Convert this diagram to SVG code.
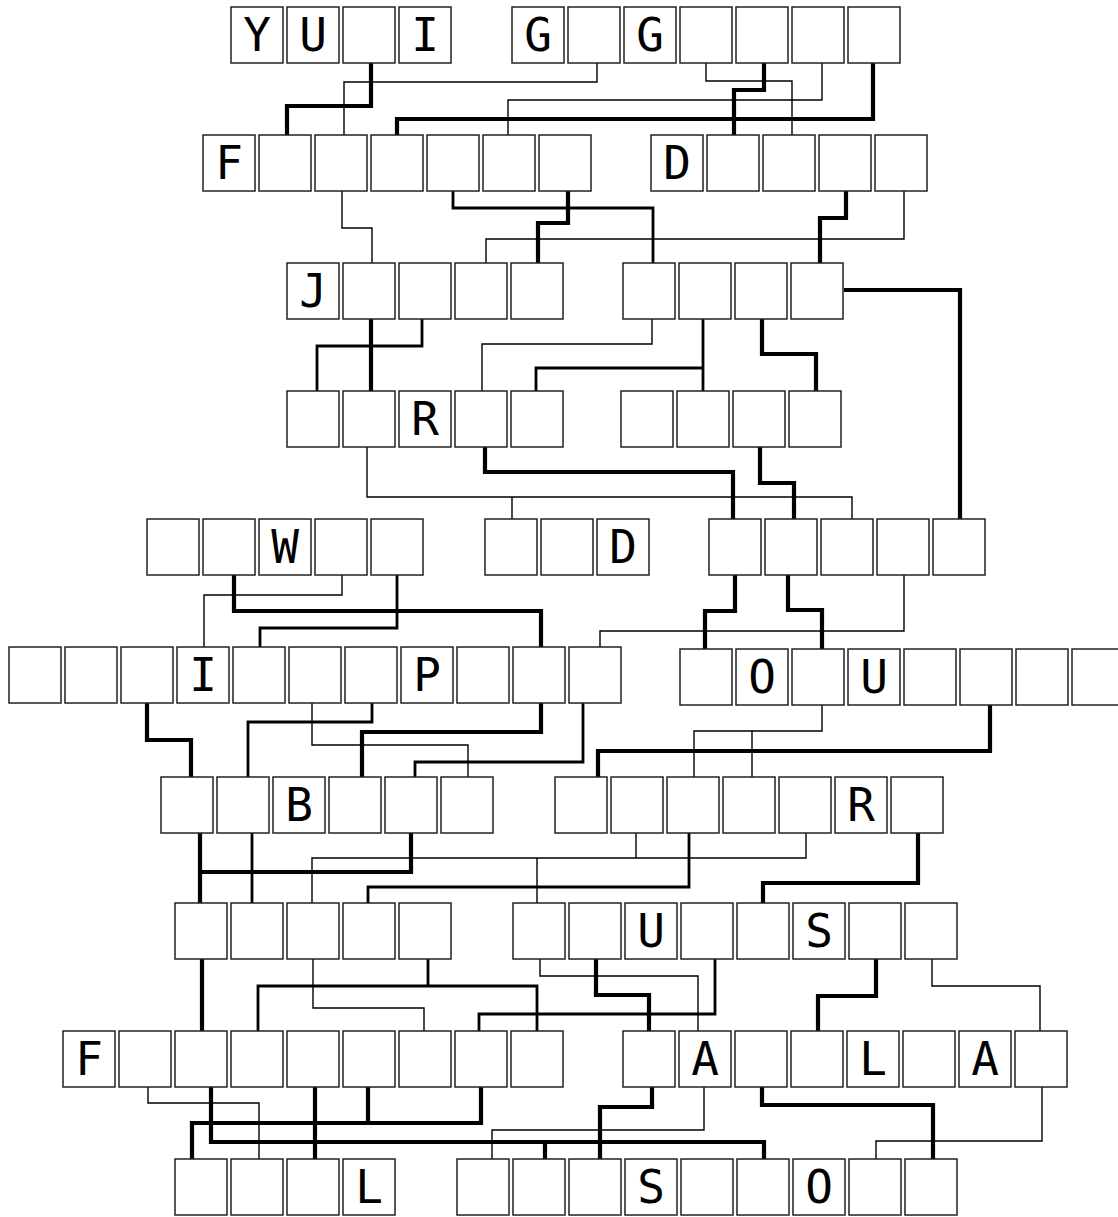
<svg xmlns="http://www.w3.org/2000/svg" xmlns:xlink="http://www.w3.org/1999/xlink" width="1118" height="1217" viewBox="0 0 1118 1217">
<style>
.b{fill:#fff;stroke:#222;stroke-width:1.5}
text{font-family:"DejaVu Sans Mono","Liberation Mono",monospace;font-size:46px;text-anchor:middle;fill:#000}
.thin{fill:none;stroke:#000;stroke-width:1.4}
.med{fill:none;stroke:#000;stroke-width:2.8}
.thk{fill:none;stroke:#000;stroke-width:4.2}
</style>
<defs><rect id="box" class="b" width="52" height="56"/></defs>
<rect width="1118" height="1217" fill="#fff"/>
<g id="connectors">
<path class="thin" d="M597 63V82H344V135"/>
<path class="thin" d="M822 63V100H508V135"/>
<path class="thin" d="M706 63V81H792V135"/>
<path class="thin" d="M342 191V228H372V263"/>
<path class="thin" d="M904 191V239H486V263"/>
<path class="thin" d="M652 319V344H482V391"/>
<path class="thin" d="M367 447V497H852V519M512 497V519"/>
<path class="thin" d="M342 575V595H204V647"/>
<path class="thin" d="M904 575V631H600V649"/>
<path class="thin" d="M312 703V745H468V777"/>
<path class="thin" d="M822 705V731H694V777M752 731V777"/>
<path class="thin" d="M312 903V858H806V833M636 833V858M537 858V903"/>
<path class="thin" d="M313 959V1008H424V1031"/>
<path class="thin" d="M540 959V976H698V1031"/>
<path class="thin" d="M932 959V986H1040V1031"/>
<path class="thin" d="M148 1087V1103H259V1159"/>
<path class="thin" d="M704 1087V1130H492V1159"/>
<path class="thin" d="M1042 1087V1141H876V1159"/>
<path class="med" d="M453 191V208H653V263"/>
<path class="med" d="M422 319V346H317V391"/>
<path class="med" d="M703 319V391M703 368H536V391"/>
<path class="med" d="M397 575V628H260V647"/>
<path class="med" d="M372 703V722H248V777"/>
<path class="med" d="M583 703V762H415V777"/>
<path class="med" d="M252 833V903"/>
<path class="med" d="M368 903V887H689V833"/>
<path class="med" d="M258 1031V986H537V1031M428 959V986"/>
<path class="med" d="M479 1031V1014H715V959"/>
<path class="thk" d="M371 63V106H287V135"/>
<path class="thk" d="M873 63V119H397V135"/>
<path class="thk" d="M764 63V90H734V135"/>
<path class="thk" d="M568 191V223H538V263"/>
<path class="thk" d="M846 191V218H820V263"/>
<path class="thk" d="M371 319V391"/>
<path class="thk" d="M762 319V354H816V391"/>
<path class="thk" d="M844 290H960V519"/>
<path class="thk" d="M485 447V472H733V519"/>
<path class="thk" d="M760 447V483H794V519"/>
<path class="thk" d="M234 575V611H541V647"/>
<path class="thk" d="M788 575V610H822V649"/>
<path class="thk" d="M735 575V611H705V649"/>
<path class="thk" d="M147 703V740H191V777"/>
<path class="thk" d="M541 703V732H362V777"/>
<path class="thk" d="M990 705V751H598V777"/>
<path class="thk" d="M200 833V903M200 872H411V833"/>
<path class="thk" d="M918 833V883H763V903"/>
<path class="thk" d="M202 959V1031"/>
<path class="thk" d="M596 959V995H649V1031"/>
<path class="thk" d="M876 959V996H818V1031"/>
<path class="thk" d="M211 1087V1142H764V1159M545 1142V1159"/>
<path class="thk" d="M192 1159V1123H481V1087M315 1087V1159M368 1087V1123"/>
<path class="thk" d="M652 1087V1107H600V1159"/>
<path class="thk" d="M762 1087V1105H933V1159"/>
</g>
<g id="row1">
<g id="n1_1" transform="translate(231,7)"><use href="#box"/><text x="26" y="44">Y</text></g>
<g id="n1_2" transform="translate(287,7)"><use href="#box"/><text x="26" y="44">U</text></g>
<g id="n1_3" transform="translate(343,7)"><use href="#box"/></g>
<g id="n1_4" transform="translate(399,7)"><use href="#box"/><text x="26" y="44">I</text></g>
<g id="n1_5" transform="translate(512,7)"><use href="#box"/><text x="26" y="44">G</text></g>
<g id="n1_6" transform="translate(568,7)"><use href="#box"/></g>
<g id="n1_7" transform="translate(624,7)"><use href="#box"/><text x="26" y="44">G</text></g>
<g id="n1_8" transform="translate(680,7)"><use href="#box"/></g>
<g id="n1_9" transform="translate(736,7)"><use href="#box"/></g>
<g id="n1_10" transform="translate(792,7)"><use href="#box"/></g>
<g id="n1_11" transform="translate(848,7)"><use href="#box"/></g>
</g>
<g id="row2">
<g id="n2_1" transform="translate(203,135)"><use href="#box"/><text x="26" y="44">F</text></g>
<g id="n2_2" transform="translate(259,135)"><use href="#box"/></g>
<g id="n2_3" transform="translate(315,135)"><use href="#box"/></g>
<g id="n2_4" transform="translate(371,135)"><use href="#box"/></g>
<g id="n2_5" transform="translate(427,135)"><use href="#box"/></g>
<g id="n2_6" transform="translate(483,135)"><use href="#box"/></g>
<g id="n2_7" transform="translate(539,135)"><use href="#box"/></g>
<g id="n2_8" transform="translate(651,135)"><use href="#box"/><text x="26" y="44">D</text></g>
<g id="n2_9" transform="translate(707,135)"><use href="#box"/></g>
<g id="n2_10" transform="translate(763,135)"><use href="#box"/></g>
<g id="n2_11" transform="translate(819,135)"><use href="#box"/></g>
<g id="n2_12" transform="translate(875,135)"><use href="#box"/></g>
</g>
<g id="row3">
<g id="n3_1" transform="translate(287,263)"><use href="#box"/><text x="26" y="44">J</text></g>
<g id="n3_2" transform="translate(343,263)"><use href="#box"/></g>
<g id="n3_3" transform="translate(399,263)"><use href="#box"/></g>
<g id="n3_4" transform="translate(455,263)"><use href="#box"/></g>
<g id="n3_5" transform="translate(511,263)"><use href="#box"/></g>
<g id="n3_6" transform="translate(623,263)"><use href="#box"/></g>
<g id="n3_7" transform="translate(679,263)"><use href="#box"/></g>
<g id="n3_8" transform="translate(735,263)"><use href="#box"/></g>
<g id="n3_9" transform="translate(791,263)"><use href="#box"/></g>
</g>
<g id="row4">
<g id="n4_1" transform="translate(287,391)"><use href="#box"/></g>
<g id="n4_2" transform="translate(343,391)"><use href="#box"/></g>
<g id="n4_3" transform="translate(399,391)"><use href="#box"/><text x="26" y="44">R</text></g>
<g id="n4_4" transform="translate(455,391)"><use href="#box"/></g>
<g id="n4_5" transform="translate(511,391)"><use href="#box"/></g>
<g id="n4_6" transform="translate(621,391)"><use href="#box"/></g>
<g id="n4_7" transform="translate(677,391)"><use href="#box"/></g>
<g id="n4_8" transform="translate(733,391)"><use href="#box"/></g>
<g id="n4_9" transform="translate(789,391)"><use href="#box"/></g>
</g>
<g id="row5">
<g id="n5_1" transform="translate(147,519)"><use href="#box"/></g>
<g id="n5_2" transform="translate(203,519)"><use href="#box"/></g>
<g id="n5_3" transform="translate(259,519)"><use href="#box"/><text x="26" y="44">W</text></g>
<g id="n5_4" transform="translate(315,519)"><use href="#box"/></g>
<g id="n5_5" transform="translate(371,519)"><use href="#box"/></g>
<g id="n5_6" transform="translate(485,519)"><use href="#box"/></g>
<g id="n5_7" transform="translate(541,519)"><use href="#box"/></g>
<g id="n5_8" transform="translate(597,519)"><use href="#box"/><text x="26" y="44">D</text></g>
<g id="n5_9" transform="translate(709,519)"><use href="#box"/></g>
<g id="n5_10" transform="translate(765,519)"><use href="#box"/></g>
<g id="n5_11" transform="translate(821,519)"><use href="#box"/></g>
<g id="n5_12" transform="translate(877,519)"><use href="#box"/></g>
<g id="n5_13" transform="translate(933,519)"><use href="#box"/></g>
</g>
<g id="row6">
<g id="n6_1" transform="translate(9,647)"><use href="#box"/></g>
<g id="n6_2" transform="translate(65,647)"><use href="#box"/></g>
<g id="n6_3" transform="translate(121,647)"><use href="#box"/></g>
<g id="n6_4" transform="translate(177,647)"><use href="#box"/><text x="26" y="44">I</text></g>
<g id="n6_5" transform="translate(233,647)"><use href="#box"/></g>
<g id="n6_6" transform="translate(289,647)"><use href="#box"/></g>
<g id="n6_7" transform="translate(345,647)"><use href="#box"/></g>
<g id="n6_8" transform="translate(401,647)"><use href="#box"/><text x="26" y="44">P</text></g>
<g id="n6_9" transform="translate(457,647)"><use href="#box"/></g>
<g id="n6_10" transform="translate(513,647)"><use href="#box"/></g>
<g id="n6_11" transform="translate(569,647)"><use href="#box"/></g>
<g id="n6_12" transform="translate(680,649)"><use href="#box"/></g>
<g id="n6_13" transform="translate(736,649)"><use href="#box"/><text x="26" y="44">O</text></g>
<g id="n6_14" transform="translate(792,649)"><use href="#box"/></g>
<g id="n6_15" transform="translate(848,649)"><use href="#box"/><text x="26" y="44">U</text></g>
<g id="n6_16" transform="translate(904,649)"><use href="#box"/></g>
<g id="n6_17" transform="translate(960,649)"><use href="#box"/></g>
<g id="n6_18" transform="translate(1016,649)"><use href="#box"/></g>
<g id="n6_19" transform="translate(1072,649)"><use href="#box"/></g>
</g>
<g id="row7">
<g id="n7_1" transform="translate(161,777)"><use href="#box"/></g>
<g id="n7_2" transform="translate(217,777)"><use href="#box"/></g>
<g id="n7_3" transform="translate(273,777)"><use href="#box"/><text x="26" y="44">B</text></g>
<g id="n7_4" transform="translate(329,777)"><use href="#box"/></g>
<g id="n7_5" transform="translate(385,777)"><use href="#box"/></g>
<g id="n7_6" transform="translate(441,777)"><use href="#box"/></g>
<g id="n7_7" transform="translate(555,777)"><use href="#box"/></g>
<g id="n7_8" transform="translate(611,777)"><use href="#box"/></g>
<g id="n7_9" transform="translate(667,777)"><use href="#box"/></g>
<g id="n7_10" transform="translate(723,777)"><use href="#box"/></g>
<g id="n7_11" transform="translate(779,777)"><use href="#box"/></g>
<g id="n7_12" transform="translate(835,777)"><use href="#box"/><text x="26" y="44">R</text></g>
<g id="n7_13" transform="translate(891,777)"><use href="#box"/></g>
</g>
<g id="row8">
<g id="n8_1" transform="translate(175,903)"><use href="#box"/></g>
<g id="n8_2" transform="translate(231,903)"><use href="#box"/></g>
<g id="n8_3" transform="translate(287,903)"><use href="#box"/></g>
<g id="n8_4" transform="translate(343,903)"><use href="#box"/></g>
<g id="n8_5" transform="translate(399,903)"><use href="#box"/></g>
<g id="n8_6" transform="translate(513,903)"><use href="#box"/></g>
<g id="n8_7" transform="translate(569,903)"><use href="#box"/></g>
<g id="n8_8" transform="translate(625,903)"><use href="#box"/><text x="26" y="44">U</text></g>
<g id="n8_9" transform="translate(681,903)"><use href="#box"/></g>
<g id="n8_10" transform="translate(737,903)"><use href="#box"/></g>
<g id="n8_11" transform="translate(793,903)"><use href="#box"/><text x="26" y="44">S</text></g>
<g id="n8_12" transform="translate(849,903)"><use href="#box"/></g>
<g id="n8_13" transform="translate(905,903)"><use href="#box"/></g>
</g>
<g id="row9">
<g id="n9_1" transform="translate(63,1031)"><use href="#box"/><text x="26" y="44">F</text></g>
<g id="n9_2" transform="translate(119,1031)"><use href="#box"/></g>
<g id="n9_3" transform="translate(175,1031)"><use href="#box"/></g>
<g id="n9_4" transform="translate(231,1031)"><use href="#box"/></g>
<g id="n9_5" transform="translate(287,1031)"><use href="#box"/></g>
<g id="n9_6" transform="translate(343,1031)"><use href="#box"/></g>
<g id="n9_7" transform="translate(399,1031)"><use href="#box"/></g>
<g id="n9_8" transform="translate(455,1031)"><use href="#box"/></g>
<g id="n9_9" transform="translate(511,1031)"><use href="#box"/></g>
<g id="n9_10" transform="translate(623,1031)"><use href="#box"/></g>
<g id="n9_11" transform="translate(679,1031)"><use href="#box"/><text x="26" y="44">A</text></g>
<g id="n9_12" transform="translate(735,1031)"><use href="#box"/></g>
<g id="n9_13" transform="translate(791,1031)"><use href="#box"/></g>
<g id="n9_14" transform="translate(847,1031)"><use href="#box"/><text x="26" y="44">L</text></g>
<g id="n9_15" transform="translate(903,1031)"><use href="#box"/></g>
<g id="n9_16" transform="translate(959,1031)"><use href="#box"/><text x="26" y="44">A</text></g>
<g id="n9_17" transform="translate(1015,1031)"><use href="#box"/></g>
</g>
<g id="row10">
<g id="n10_1" transform="translate(175,1159)"><use href="#box"/></g>
<g id="n10_2" transform="translate(231,1159)"><use href="#box"/></g>
<g id="n10_3" transform="translate(287,1159)"><use href="#box"/></g>
<g id="n10_4" transform="translate(343,1159)"><use href="#box"/><text x="26" y="44">L</text></g>
<g id="n10_5" transform="translate(457,1159)"><use href="#box"/></g>
<g id="n10_6" transform="translate(513,1159)"><use href="#box"/></g>
<g id="n10_7" transform="translate(569,1159)"><use href="#box"/></g>
<g id="n10_8" transform="translate(625,1159)"><use href="#box"/><text x="26" y="44">S</text></g>
<g id="n10_9" transform="translate(681,1159)"><use href="#box"/></g>
<g id="n10_10" transform="translate(737,1159)"><use href="#box"/></g>
<g id="n10_11" transform="translate(793,1159)"><use href="#box"/><text x="26" y="44">O</text></g>
<g id="n10_12" transform="translate(849,1159)"><use href="#box"/></g>
<g id="n10_13" transform="translate(905,1159)"><use href="#box"/></g>
</g>
</svg>
